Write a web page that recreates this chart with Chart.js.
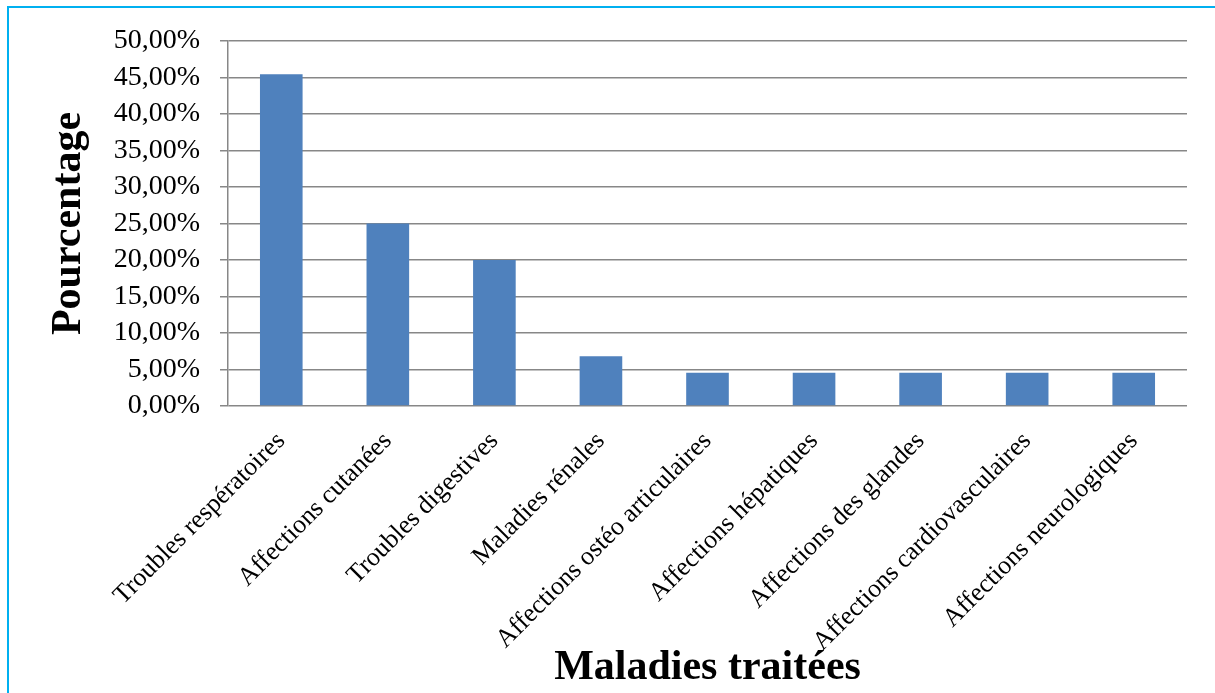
<!DOCTYPE html>
<html>
<head>
<meta charset="utf-8">
<script src="https://cdn.jsdelivr.net/npm/chart.js@4/dist/chart.umd.min.js"></script>
<style>
  html, body { margin: 0; padding: 0; background: #fff; overflow: hidden; }
  #frame {
    position: absolute; left: 7px; top: 6px;
    width: 1400px; height: 900px;
    border: 2px solid #00B0F0;
  }
  #wrap { position: absolute; left: 0; top: 0; width: 1215px; height: 693px; }
</style>
</head>
<body>
<div id="frame"></div>
<div id="wrap"><canvas id="chart" width="1215" height="693"></canvas></div>
<script>
const categories = [
  'Troubles respératoires',
  'Affections cutanées',
  'Troubles digestives',
  'Maladies rénales',
  'Affections ostéo articulaires',
  'Affections hépatiques',
  'Affections des glandes',
  'Affections cardiovasculaires',
  'Affections neurologiques'
];
const percentages = [45.45, 25, 20, 6.82, 4.55, 4.55, 4.55, 4.55, 4.55];
const yTitle = 'Pourcentage';
const xTitle = 'Maladies traitées';

const gridColor = '#878787';
const serif = "'Liberation Serif', 'DejaVu Serif', serif";

function formatPercent(v) {
  return v.toFixed(2).replace('.', ',') + '%';
}

new Chart(document.getElementById('chart'), {
  type: 'bar',
  data: {
    labels: categories,
    datasets: [{
      data: percentages,
      backgroundColor: '#4F81BD',
      borderWidth: 0,
      categoryPercentage: 1,
      barPercentage: 0.4
    }]
  },
  options: {
    responsive: false,
    animation: false,
    layout: { padding: { top: 41, right: 28, bottom: 0, left: 0 } },
    plugins: {
      legend: { display: false },
      tooltip: { enabled: false }
    },
    scales: {
      x: {
        grid: { display: false, drawTicks: false },
        border: { display: false },
        ticks: {
          color: '#000',
          font: { family: serif, size: 26 },
          minRotation: 45,
          maxRotation: 45,
          padding: 20,
          autoSkip: false
        },
        title: {
          display: true,
          text: xTitle,
          color: '#000',
          font: { family: serif, size: 42, weight: 'bold' },
          padding: { top: 0, bottom: 0 }
        },
        afterFit: scale => { scale.height = 287; }
      },
      y: {
        min: 0,
        max: 50,
        grid: { color: gridColor, lineWidth: 1.5, tickLength: 8 },
        border: { display: true, color: gridColor, width: 1.5 },
        ticks: {
          stepSize: 5,
          autoSkip: false,
          color: '#000',
          padding: 20,
          font: { family: serif, size: 28 },
          callback: v => formatPercent(v)
        },
        title: {
          display: true,
          text: yTitle,
          color: '#000',
          font: { family: serif, size: 42, weight: 'bold' },
          padding: { top: 44, bottom: 0 }
        },
        afterFit: scale => { scale.width = 228; }
      }
    }
  }
});
</script>
</body>
</html>
